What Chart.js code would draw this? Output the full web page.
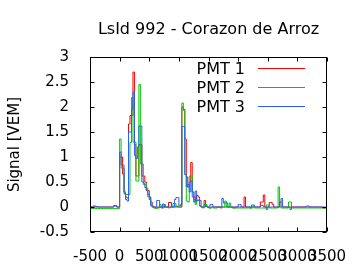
<!DOCTYPE html>
<html>
<head>
<meta charset="utf-8">
<script src="https://cdn.jsdelivr.net/npm/chart.js@4"></script>
<style>
  html, body { margin: 0; padding: 0; background: #fff; overflow: hidden; }
  canvas { display: block; }
</style>
</head>
<body>
<canvas id="traceChart" width="360" height="270"></canvas>
<script>
// FADC trace: 25 ns bins, first bin starts at -500 ns
const binStart = -500;
const binWidth = 25;
const chartTitle = 'LsId 992 - Corazon de Arroz';
const seriesNames = ['PMT 1', 'PMT 2', 'PMT 3'];
const seriesColors = ['#ff0000', '#00c800', '#2a5cff'];
const xTicks = [-500, 0, 500, 1000, 1500, 2000, 2500, 3000, 3500];
const yTicks = [-0.5, 0, 0.5, 1, 1.5, 2, 2.5, 3];

// one row = 500 ns (20 bins)
const pmt1 = [
  0, 0, 0.02, 0.02, 0, 0, 0, 0, 0, 0, 0, 0, 0, 0, 0, 0, 0.03, 0.03, 0, 0,
  1.0, 1.0, 0.66, 0.3, 0.2, 0.18, 1.66, 1.83, 1.83, 2.7, 1.25, 0.62, 0.62, 1.25, 1.25, 0.62, 0.62, 0.5, 0.33, 0.33,
  0.15, 0.1, 0.02, 0, -0.02, -0.02, 0, 0, -0.02, 0, 0, 0, 0, 0.09, 0.09, 0, 0, 0, 0.02, 0,
  0, 0, 2.0, 1.95, 1.36, 0.6, 0.4, 0.5, 0.89, 0.3, 0.2, 0.1, 0.23, 0.2, 0.02, 0, 0, 0.13, 0.02, 0,
  0, -0.02, 0, 0, 0, 0, 0, 0, -0.02, 0, 0, 0, 0, 0, 0, 0, 0, -0.02, 0, 0,
  0, 0, 0, 0, 0.2, 0, 0, 0, -0.02, 0, 0, 0, 0, 0, 0, 0.1, 0.1, 0.24, 0, 0,
  0, 0.09, 0.09, 0.05, 0, 0, 0, 0, 0.1, 0, 0, 0, 0, 0, 0, 0, 0, 0, 0, 0,
  0, 0, 0, 0, 0, 0, 0, 0, 0, 0, 0, 0, 0, 0, 0, 0, 0, -0.02, -0.02, -0.02
];
const pmt2 = [
  -0.02, -0.03, -0.03, -0.03, -0.03, -0.03, -0.03, -0.03, -0.03, -0.03, -0.03, -0.03, -0.03, -0.03, -0.03, -0.03, -0.03, -0.03, -0.03, -0.03,
  1.36, 0.78, 0.78, 0.3, 0.25, 0.25, 0.25, 1.29, 2.19, 1.3, 1.3, 0.52, 0.52, 2.45, 0.86, 0.86, 0.45, 0.45, 0.38, 0.2,
  0.2, 0.05, 0, -0.02, -0.03, 0, -0.02, 0.05, 0, -0.02, 0.05, 0, 0, -0.02, 0, 0, 0.07, 0.07, 0, 0,
  0, 0, 2.08, 1.93, 0.65, 0.12, 0.1, 0.62, 0.62, 0.3, 0.15, 0.05, 0.14, 0.14, 0.02, 0, -0.02, 0.05, 0.05, 0,
  -0.02, -0.02, 0, -0.02, -0.02, -0.02, 0, 0, 0, 0, 0, 0.12, 0, 0, 0.08, 0, -0.02, -0.02, -0.02, -0.02,
  -0.02, -0.02, -0.02, -0.02, -0.02, -0.02, -0.02, -0.02, -0.02, -0.02, 0.02, -0.02, -0.02, -0.02, -0.02, -0.02, -0.02, -0.02, -0.02, 0.04,
  0.04, -0.02, -0.02, -0.02, -0.02, -0.02, -0.02, 0.4, 0, -0.02, -0.02, -0.02, -0.02, -0.02, 0.1, 0.1, -0.02, -0.02, -0.02, -0.02,
  -0.02, -0.02, -0.02, -0.02, -0.02, -0.02, -0.02, -0.02, -0.02, -0.02, -0.02, -0.02, -0.02, -0.02, -0.02, -0.02, -0.02, -0.02, -0.02, -0.02
];
const pmt3 = [
  0, 0, 0, 0, 0.01, 0, 0, 0, 0, 0, 0, 0, 0, 0, 0, 0, 0.02, 0.02, 0, 0,
  1.1, 0.84, 0.84, 0.26, 0.15, 0.12, 1.5, 1.5, 1.95, 2.3, 1.03, 0.97, 1.2, 1.62, 1.62, 0.5, 0.48, 0.39, 0.34, 0.25,
  0.2, 0.02, 0, 0, 0, 0.13, 0.13, 0, 0, 0.06, 0, 0, 0, 0, 0, 0, 0, 0.15, 0.19, 0.19,
  0.02, 0.05, 1.61, 1.61, 0.65, 0.4, 0.45, 0.3, 0.52, 0.2, 0.1, 0.32, 0.13, 0.13, 0.13, 0, 0, 0, 0.02, 0,
  0, 0.05, 0.05, 0, 0, 0, 0, 0, 0, 0.17, 0.08, 0.08, 0.08, 0, 0, 0, 0, 0, 0, 0,
  0.05, 0.05, 0, 0, 0, 0, 0, 0, 0, 0.04, 0.04, 0, 0, 0, 0, 0.03, 0.03, 0, 0, -0.05,
  0, 0, 0, 0, 0, 0, 0, 0, 0.1, 0.17, 0, 0, 0, 0, 0, -0.05, 0, 0, 0, 0,
  0, 0, 0, 0, 0, 0, 0.02, 0.02, 0, 0, 0, 0, 0, 0, 0, 0, 0, 0, 0, 0
];

function toSteps(values) {
  const pts = values.map((v, i) => ({ x: binStart + i * binWidth, y: v }));
  // close the last bin
  pts.push({ x: binStart + values.length * binWidth, y: values[values.length - 1] });
  return pts;
}

const fontFamily = '"DejaVu Sans", sans-serif';

// gnuplot style frame: box, inward ticks on all four sides, title over the plot, key with text before the sample
const framePlugin = {
  id: 'frame',
  afterDatasetsDraw(chart) {
    const { ctx, chartArea: a, scales } = chart;
    const L = Math.round(a.left) + 0.5, R = Math.round(a.right) - 0.5;
    const T = Math.round(a.top) + 0.5, B = Math.round(a.bottom) - 0.5;
    ctx.save();
    ctx.strokeStyle = '#000';
    ctx.lineWidth = 1;
    ctx.strokeRect(L, T, R - L, B - T);
    ctx.beginPath();
    scales.x.ticks.forEach(t => {
      const px = Math.round(scales.x.getPixelForValue(t.value)) + 0.5;
      ctx.moveTo(px, T); ctx.lineTo(px, T + 4);
      ctx.moveTo(px, B); ctx.lineTo(px, B - 4);
    });
    scales.y.ticks.forEach(t => {
      const py = Math.round(scales.y.getPixelForValue(t.value)) + 0.5;
      ctx.moveTo(L, py); ctx.lineTo(L + 4, py);
      ctx.moveTo(R, py); ctx.lineTo(R - 4, py);
    });
    ctx.stroke();

    ctx.fillStyle = '#000';
    ctx.font = '16px ' + fontFamily;
    ctx.textAlign = 'center';
    ctx.textBaseline = 'alphabetic';
    ctx.fillText(chartTitle, (a.left + a.right) / 2, 34);

    // key
    ctx.textAlign = 'right';
    chart.data.datasets.forEach((ds, i) => {
      const y = 68 + i * 19;
      ctx.fillStyle = '#000';
      ctx.fillText(ds.label, 245, y + 6);
      ctx.strokeStyle = ds.borderColor;
      ctx.beginPath();
      ctx.moveTo(258, y + 0.5);
      ctx.lineTo(305, y + 0.5);
      ctx.stroke();
    });
    ctx.restore();
  }
};

const traces = [pmt1, pmt2, pmt3];

new Chart(document.getElementById('traceChart'), {
  type: 'line',
  data: {
    datasets: traces.map((vals, i) => ({
      label: seriesNames[i],
      data: toSteps(vals),
      borderColor: seriesColors[i],
      borderWidth: 1,
      pointRadius: 0,
      stepped: true,
      fill: false,
      order: 3 - i
    }))
  },
  options: {
    responsive: false,
    animation: false,
    layout: { padding: { left: 0, right: 33, top: 57, bottom: 0 } },
    plugins: {
      legend: { display: false },
      tooltip: { enabled: false },
      title: { display: false }
    },
    scales: {
      x: {
        type: 'linear',
        min: -500,
        max: 3500,
        grid: { display: false },
        border: { display: false },
        afterBuildTicks: s => { s.ticks = xTicks.map(v => ({ value: v })); },
        afterFit: s => { s.height = 38; },
        ticks: {
          autoSkip: false,
          maxRotation: 0,
          minRotation: 0,
          padding: 8,
          color: '#000',
          font: { family: fontFamily, size: 15 },
          callback: v => String(v)
        }
      },
      y: {
        min: -0.5,
        max: 3,
        grid: { display: false },
        border: { display: false },
        afterBuildTicks: s => { s.ticks = yTicks.map(v => ({ value: v })); },
        afterFit: s => { s.width = 90; },
        title: {
          display: true,
          text: 'Signal [VEM]',
          color: '#000',
          font: { family: fontFamily, size: 15 },
          padding: { top: 6, bottom: 0 }
        },
        ticks: {
          padding: 13,
          color: '#000',
          font: { family: fontFamily, size: 15 },
          callback: v => String(v)
        }
      }
    }
  },
  plugins: [framePlugin]
});
</script>
</body>
</html>
